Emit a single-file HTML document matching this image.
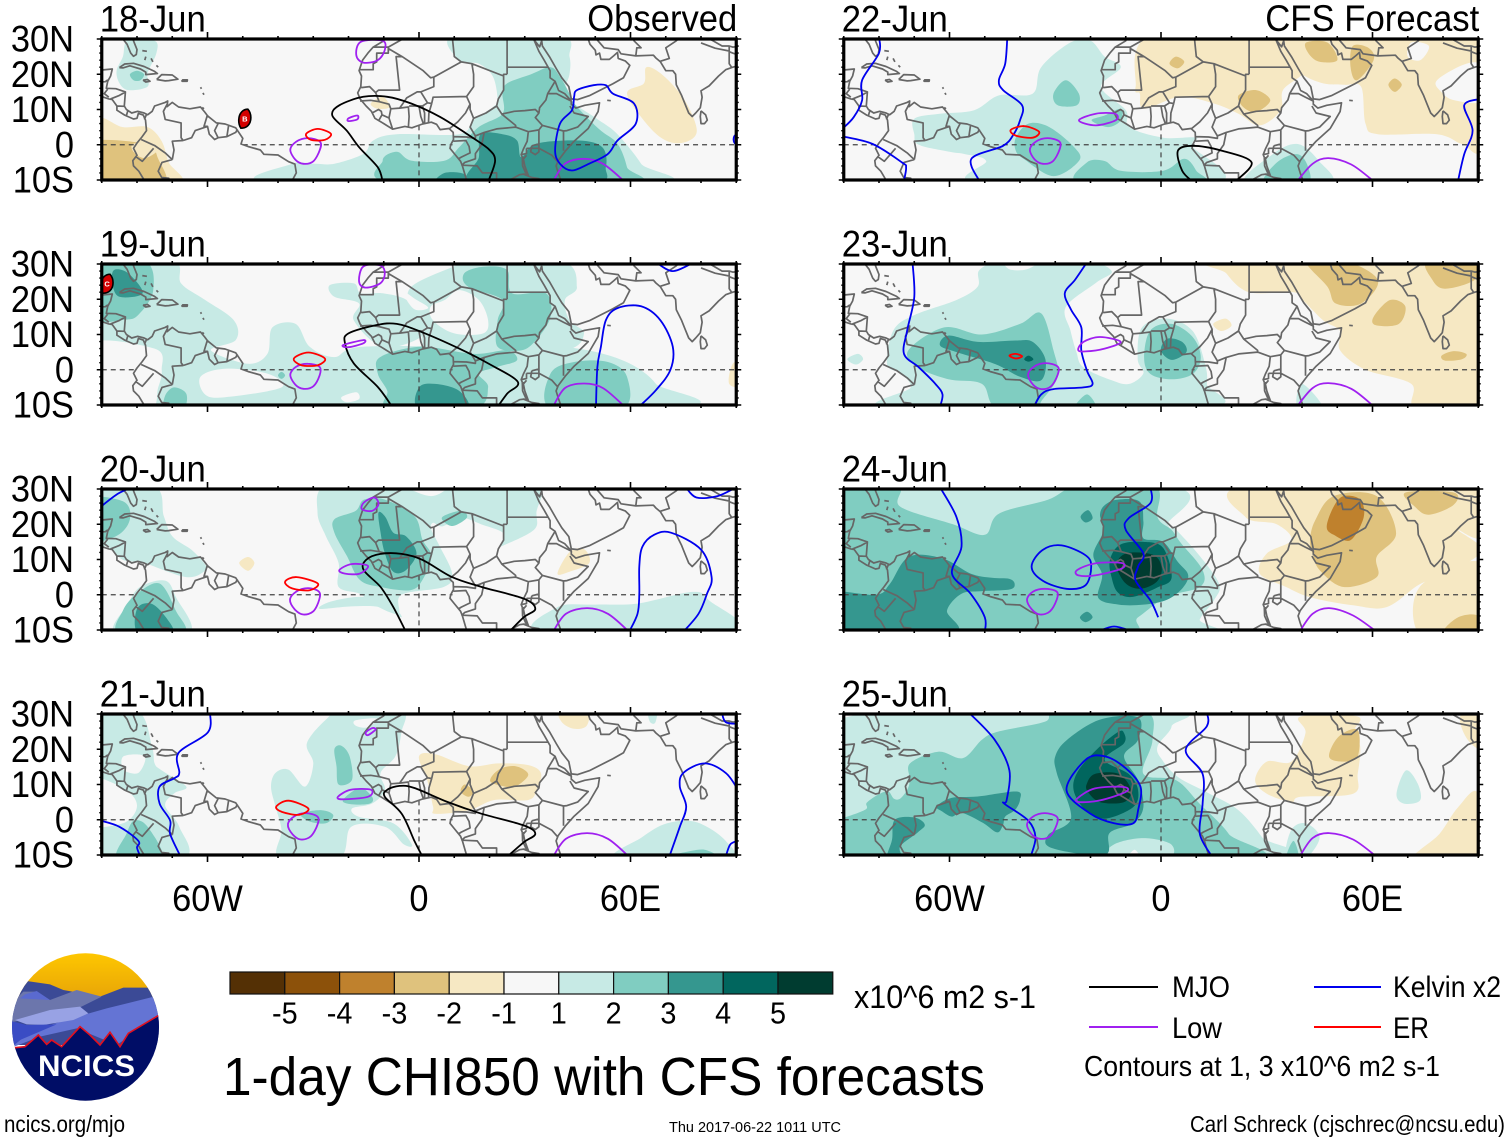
<!DOCTYPE html>
<html lang="en">
<head>
<meta charset="utf-8">
<title>1-day CHI850 with CFS forecasts</title>
<style>
html,body{margin:0;padding:0;background:#fff;}
svg{display:block;font-family:"Liberation Sans",sans-serif;}
</style>
</head>
<body>
<svg id="chart" xmlns="http://www.w3.org/2000/svg" width="1510" height="1142" viewBox="0 0 1510 1142">
  <rect width="1510" height="1142" fill="#fff"/>
  <g id="panels"></g>

  <g id="colorbar"></g>
  <text x="854" y="1008" font-size="32" textLength="182" lengthAdjust="spacingAndGlyphs">x10^6 m2 s-1</text>

  <g>
    <line x1="1089" x2="1158" y1="987" y2="987" stroke="#000" stroke-width="2"/>
    <text x="1172" y="997" font-size="30" textLength="58" lengthAdjust="spacingAndGlyphs">MJO</text>
    <line x1="1314" x2="1381" y1="987" y2="987" stroke="#0000ee" stroke-width="2"/>
    <text x="1393" y="997" font-size="30" textLength="108" lengthAdjust="spacingAndGlyphs">Kelvin x2</text>
    <line x1="1089" x2="1158" y1="1027" y2="1027" stroke="#a020f0" stroke-width="2"/>
    <text x="1172" y="1038" font-size="30" textLength="50" lengthAdjust="spacingAndGlyphs">Low</text>
    <line x1="1314" x2="1381" y1="1027" y2="1027" stroke="#f00" stroke-width="2"/>
    <text x="1393" y="1038" font-size="30" textLength="36" lengthAdjust="spacingAndGlyphs">ER</text>
    <text x="1084" y="1076" font-size="29" textLength="356" lengthAdjust="spacingAndGlyphs">Contours at 1, 3 x10^6 m2 s-1</text>
  </g>

  <text x="223" y="1095" font-size="54" textLength="762" lengthAdjust="spacingAndGlyphs">1-day CHI850 with CFS forecasts</text>
  <text x="4" y="1132" font-size="23" textLength="121" lengthAdjust="spacingAndGlyphs">ncics.org/mjo</text>
  <text x="669" y="1132" font-size="15" textLength="172" lengthAdjust="spacingAndGlyphs">Thu 2017-06-22 1011 UTC</text>
  <text x="1190" y="1132" font-size="23" textLength="315" lengthAdjust="spacingAndGlyphs">Carl Schreck (cjschrec@ncsu.edu)</text>

  <g>
    <defs>
      <clipPath id="logo-clip"><ellipse cx="85.5" cy="1027" rx="73.5" ry="73.7"/></clipPath>
      <linearGradient id="sun-grad" x1="0" y1="0" x2="0" y2="1"><stop offset="0" stop-color="#ffc800"/><stop offset="1" stop-color="#e6a208"/></linearGradient>
    </defs>
    <g clip-path="url(#logo-clip)">
      <g transform="translate(0,945) scale(0.33333)">
        <rect x="20" y="20" width="480" height="150" fill="url(#sun-grad)"/>
        <polygon fill="#3b4a96" points="20,175 80,108 150,118 190,135 300,155 370,128 445,128 500,170 500,300 20,300"/>
        <polygon fill="#6c76ac" points="20,190 70,140 110,140 150,165 230,135 305,155 240,187 20,235"/>
        <polygon fill="#5a6ad0" points="60,160 75,148 110,138 150,165"/>
        <polygon fill="#6474d4" points="250,210 320,190 462,155 490,205 350,300 230,250 120,275 30,310 85,265 150,240"/>
        <polygon fill="#98a2e4" points="45,225 150,195 240,185 265,205 220,225 130,240 80,238"/>
        <polygon fill="#3a4cc4" points="20,225 80,240 170,238 60,285 30,310 20,310"/>
        <path fill="#000d66" d="M20,300 L45,308 75,305 115,270 140,298 155,285 185,305 240,245 270,270 300,300 330,262 360,305 385,265 495,200 V480 H20 Z"/>
        <path fill="none" stroke="#e01020" stroke-width="5" d="M35,305 L45,308 75,305 115,270 140,298 155,285 185,305 240,245 270,270 300,300 330,262 360,305 385,265 495,200"/>
      </g>
    </g>
    <text x="38" y="1076" font-size="30" font-weight="bold" fill="#fff" textLength="97" lengthAdjust="spacingAndGlyphs">NCICS</text>
  </g>
</svg>

<script>
/* ---------- axis values ---------- */
const panelDates = ['18-Jun','19-Jun','20-Jun','21-Jun','22-Jun','23-Jun','24-Jun','25-Jun'];
const lonTicks = [-60, 0, 60];
const lonTickLabels = ['60W', '0', '60E'];
const latTicks = [30, 20, 10, 0, -10];
const latTickLabels = ['30N', '20N', '10N', '0', '10S'];
const colorbarLevels = [-5, -4, -3, -2, -1, 1, 2, 3, 4, 5];
const colorbarLabels = ['-5', '-4', '-3', '-2', '-1', '1', '2', '3', '4', '5'];
const equatorOceanLons = [[-90,-80],[-50,9.5],[42,90]];
const primeMeridianOceanLats = [5.5,-10];

/* ---------- map geometry, flat lon,lat lists ---------- */
const coastlines = [
 [-90,29.2,-89.5,30.2,-86,30.4,-84,30,-82.8,28.5,-81.8,26,-81,25.1,-80.2,25.6,-80,27,-81,29.5,-81.4,31],
 [-91,18.6,-90.5,20.5,-90,21.2,-87,21.5,-87.5,19.5,-88.3,18,-88.7,16,-86,15.9,-83.3,15,-83.6,11,-83,10,-81.5,9,-79.8,9.5,-78,9,-77,8.5,-75.7,9.5,-75,11,-72,12,-71.3,12.4,-71.5,10.8,-70,12,-68.2,10.7,-65,10.2,-62,10.7,-60.8,9.3,-60,8.2,-57.5,6.2,-55,5.9,-52,4.8,-50,1.8,-50.5,0.2,-48.5,-0.5,-45,-1.5,-44,-2.7,-40,-2.9,-37,-4.8,-35.2,-5.5,-34.8,-8,-36,-10.2,-37,-11],
 [-91,14,-88,13,-87,12.8,-85.7,11,-85.7,9.8,-83.5,8.4,-81,7.3,-80,7.5,-79.6,8.9,-78.2,8.4,-77.6,7,-77.3,4,-78.6,2.2,-80,0.5,-81,-1,-80,-3,-81.2,-4.5,-81,-6,-79.5,-7.5,-78,-10,-77.5,-11],
 [-85,21.9,-83.5,22.9,-81,23.1,-78,22.2,-75,20.8,-74.2,20.2,-77.5,19.9,-77.5,20.6,-79,21.5,-82,22.4,-84,21.8,-85,21.9],
 [-78.3,18.3,-77,18.5,-76.3,18,-77.5,17.8,-78.3,18.3],
 [-74.4,18.5,-73,19.9,-70,19.8,-68.4,18.6,-71,18.2,-72,18.1,-74.4,18.5],
 [-67.2,18.4,-65.7,18.4,-65.8,18,-67.2,18,-67.2,18.4],
 [-78.5,26.7,-77.2,26.5],[-77.5,25,-77.8,24],[-76,24.5,-75.5,23.5],[-74.5,22.5,-74,22],
 [-62,16.3,-61.7,15.9],[-61.3,14.7,-61,14.2],[-61.5,10.6,-61,10.2],
 [-9.5,31,-10,29.5,-13,27.7,-14.5,26,-16,24,-17,21,-16.3,19.5,-16.5,16.5,-17.4,14.7,-16.7,13,-15,11,-13.5,9.5,-12.5,7.5,-10,6,-7.5,4.4,-4,5.2,-2,4.8,1,5.9,3.5,6.4,5,5.8,6,4.3,8.5,4.6,9.7,3.5,9.8,1.5,9,0,8.8,-1,10,-2.5,11.8,-4.7,12.3,-6,13.2,-9,13.8,-11],
 [32.5,31,32.6,29.8,34,26.5,35.5,24,37.2,21,37.2,19,38.6,18,39.6,15.4,41.3,14.5,43.2,12.4,43.2,11.5,44.5,10.4,47,11.2,51.2,11.9,50.8,9.4,48,4.6,44,1,41.5,-1.8,39.5,-4.5,38.9,-6,39.5,-8,40.4,-10.5,40.5,-11],
 [34.8,29.5,35,28,37,25,39,21.5,40.5,19,42.5,16.5,43.2,13,45,12.8,48.5,14,52,15.8,55,17.3,58,19,59.8,22.5,58.5,23.8,56.5,24.5,56.3,26.2,55.3,25.3,54,24.2,51.6,24.2,51.2,26,50.2,25.5,50,26.8,48.5,28.5,48,30,48.8,30.3],
 [32.6,29.8,34.2,27.8,34.8,29.5],
 [48.8,30.3,50.5,29.8,52.5,27.5,56.5,27,57.3,25.8,61.5,25.2,66.5,25.4,67.2,24.6,68.5,23.5,70,21,72,21,72.8,20,73,17,74.5,14,75.5,11.5,76.5,9,77.5,8,78.5,9,79.8,10.5,80.3,13.5,80,15.3,82.3,16.7,85,19.5,87,21.3,89,22,91,22.5],
 [80,9.6,81.3,8.5,81.8,7,81,6,80,6,79.8,8,80,9.6],
 [32,-0.3,34,0.2,34,-2,33,-2.8,31.7,-2,32,-0.3],
 [29.3,-3.5,29.4,-6,30.5,-8.5,31,-8.7,30,-6,29.5,-3.5],
 [53.4,12.6,54.4,12.5]
];
const countryBorders = [
 [-13,27.7,-8.7,27.7],[-8.7,27.7,-8.7,26,-12,26,-12,23.5,-13,23,-13,21.3,-17,21.3],
 [-8.7,27.3,-4.8,25,-6.5,25,-5.5,15.5,-11.5,15.5,-12.3,14.8,-14,16.5,-16.4,16.2],
 [-4.8,25,1.2,21,3.3,19,4.2,19.2,12,23.5,10,25,9.5,30,9.5,31],[-8.7,27.7,-5,29.8,-2,31],
 [4.2,19.2,4.2,16.5,0.5,15,-0.5,15,-3.5,13.3,-4.5,11.8,-5.5,10.4,-8,10.2,-8.5,11.5,-11.3,12.2,-12.3,14.8],
 [-16.7,12.4,-13.7,12.6,-11.3,12.2],[-13.3,9,-11.5,10,-10.7,9.5,-10.5,8.5,-8.5,7.6,-7.5,4.4],[-11.4,6.9,-10.5,8.5],[-8.5,7.6,-8,10.2],
 [-5.5,10.4,-3,10.7,-2.8,8,-3,5.1],[-2.8,11,1,11,2.4,11.9,3.6,11.7],[0,11,0.5,8,1.2,6.1],[1,11,1.6,9,1.6,6.2],[2.7,6.4,2.8,9,3.6,11.7],[0.5,15,2.4,11.9],
 [3.6,11.7,4,13.5,13.5,13.7,15.5,16.5,15.5,20,15,23,12,23.5],[13.5,13.7,14.5,11.5,13.2,9,11,6.5,8.7,4.6],
 [15,23,24,19.5,24,15.5,22.5,13,22,11,19,9,15.5,7.5,14.5,10,14.5,11.5],
 [15.5,7.5,14.5,5,16,2.5,18.5,3.5,22,4.5,27.4,5,27.4,5.5,23.5,8.7,22,11],
 [9.8,2.3,13.5,2.2,16,1.8,16,2.5],[9.8,1,13.3,1.2,14.2,-0.5,14.5,-2.3,12,-3.5,11.2,-4],
 [18.5,3.5,17.8,0,16,-2.5,16,-4,13,-5,12.2,-5.8,16.5,-6,18,-8,22,-8,22,-11],
 [27.4,5,31,3.7,30.7,1,29.6,-1.3,29,-2.8,29.3,-3.5],
 [25,20,24,20,24,19.5],[25,20,25,31],[25,22,36.8,22],
 [23.5,8.7,27,9.5,30,9.7,33,10,34,9,33,7.7,35,5.5,34,4.2,31,3.7],
 [38.6,18,36.5,14.5,36,12.7,34.2,10.5,34,9],[36.5,14.5,39,14.5,41,13.5,43,12.5],
 [42.8,11,44,9,48,8,45,5,42,4,41,3.9,35,5.5],[41,3.9,41,-1.7],[34,4.2,34,-1,37.7,-3,39.2,-4.7],
 [30.5,-1,34,-1],[29,-2.8,30.5,-2.5,30.5,-1],[29.3,-4.4,30.5,-3],[29.5,-8.3,32,-9.3,34,-9.6,35,-11],[22,-11,24,-11,28.5,-8.5,30,-8.3],
 [61.5,25.2,61.8,27.5,63,27.5,61,29.5,61,31],[68.5,23.7,71,24.5,70,27.5,73,29.5,74.5,31],
 [80,28.9,84,27.4,88,26.6,88,28],[88,26.5,88,23,88.8,21.8],[88,26.4,89,26,92,25],[79,31,81,30,82,30.3,86,28,88,28,89,27.7,92,28],
 [-77.3,8.6,-77.9,7.2],[-85.7,11,-83.7,10.9],[-87.5,13,-85,14,-83.2,15],[-88,13.5,-89.3,14.5,-88.3,15.8],[-83,8.3,-82.6,9.6],[-92,15,-91,16,-90.5,17.8,-89,17.9,-88.3,18.4],
 [-71.3,11.8,-72.5,9.5,-72,7.2,-67.5,6.2,-67.5,2,-66.9,1.2],[-60,8.5,-61,5.2,-60,5.2,-63.5,4,-64.5,2,-66.9,1.2],
 [-60,5.2,-59.5,3,-58,1.5,-57,2],[-57,6,-58,4,-57,2],[-54,5.7,-54.5,2.3],[-57,2,-54.5,2.3,-52,3.5,-51.5,4.4],
 [-78.8,1.5,-75.5,0,-75,-0.2,-72,-2.3,-70,-4.2],[-66.9,1.2,-70,1,-69.5,-1.5,-70,-4.2],[-80.3,-3.4,-78.5,-4.7,-75.3,-1],
 [-70,-4.2,-72.9,-5,-74,-7.5,-73,-9.3,-71,-9.5,-70.5,-11],[-69.5,-11,-65.3,-10,-65,-11]
];

/* ---------- shaded anomaly regions: [level, flat lon,lat outline] (level 0 = neutral gap) ---------- */
const shadeJun18 = [
 [-1,[-92,7,-84,5,-77,5,-73,1,-71,-5,-68,-11,-92,-11]],
 [-2,[-95,0.3,-78,0.3,-74,-4,-73,-12,-95,-12]],
 [-1,[-81,0.3,-75,0.3,-74.5,-2,-78,-3.8,-81,-2]],
 [1,[-82.5,30,-75,29.5,-74.5,26,-77,20.3,-77,16.5,-82.5,15.5,-85,17.5,-85.8,21,-84,25]],
 [2,[-82,20,-80,21,-78,20,-79,18.3,-81,18.3]],
 [1,[10,31,11.4,24,17,23,21,19.3,22.3,12.6,21,10.7,15.5,7,11.4,3,-6.3,3,-13,1.2,-15.8,-2.6,-24,-5.4,-29.4,-5.4,-36,-5.4,-40,-11,65,-11,63,-5.4,56.3,3,51,7,48,9,44,11.7,41.4,15.5,42.7,20,42.7,25,40,31]],
 [2,[25,17.4,31.8,20,37.3,22,40,19.3,42.7,14.5,44,11.7,51,4.5,56.3,0.3,59,-6.4,59,-11,-6.3,-11,-10.3,-4.5,-6.3,-2,-2.2,-4.5,7.3,-4.5,11.4,-0.7,16.9,5,23.7,8.8,23.7,14.5]],
 [3,[17.5,3,23.7,3,27.8,1.2,29,-3.5,33.2,0.3,45.4,1.2,52,-0.7,53,-6.4,49.5,-11,15.5,-11,17,-3.5]],
 [3,[4.6,-11,7.3,-8,12.8,-8.3,13.5,-11]],
 [-1,[64.5,22,69.2,19.7,75.4,12.6,78.8,4,75.4,0.7,70,1.2,64.5,6,59,14.5,63.8,17.4]],
 [-1,[-13.7,11.7,-10.3,13.6,-8.3,10.7,-11.7,10.2]]
];
const contoursJun18 = [
 ['MJO',false,[-10.3,-10.5,-11.7,-6.4,-17,-0.7,-20.5,4,-24.6,8.3,-22.6,11.2,-15.8,13.6,-9,13.6,-2.2,11.7,6,7.9,13.5,3.1,19.6,-1.1,21.6,-4.5,19.6,-10.5]],
 ['Low',true,[-16.5,29.2,-17.8,25.4,-15.8,23.3,-11.7,24,-9.7,26.9,-10.3,29.5]],
 ['Low',true,[-20,7.5,-17.5,8.3,-17.5,7.2,-20,6.7]],
 ['Low',true,[-36.5,-1.4,-34.8,0.9,-31.5,1.9,-28.1,0.9,-28.1,-1.4,-30,-4.7,-32.8,-5.4,-35.1,-4.2]],
 ['Low',false,[38,-10.5,41.4,-5.4,46.8,-4,52.2,-5.4,58.4,-10.5]],
 ['ER',true,[-32,3.1,-28.7,4.5,-25,3.1,-26.7,1.4,-30.7,1.4]],
 ['Kelvin',true,[44.8,15.5,49.5,16.9,53,16.9,55,14.5,61,11.7,61.5,6,56.3,1.2,53.6,-2.6,48.2,-5.4,43.4,-7.3,40,-5.4,38.6,-1.6,40,6,43.4,9.8,44,13.6]],
 ['Kelvin',false,[91,3.5,89.5,2.5,89.3,1,90,0,91,-0.5]]
];
const shadeJun19 = [
 [1,[-92,31,-70,31,-67.5,24.5,-61,20,-52.5,14,-52,8.4,-59,5.5,-48.5,1.7,-43,4.5,-41.6,12,-35,13,-31,6.5,-24,3.6,-16,6.5,17,6.5,41,6.5,57.7,2.7,67.2,-4,68,-11,-92,-11]],
 [1,[-2.2,23.5,11.4,30,11.4,31,40,31,44.8,23.5,41.4,19.8,42.7,14,46.8,10.3,41.4,5.5,17,4.5,3,5.5,0.5,10.3,-2.2,16]],
 [1,[-25.3,24,-18.5,24.5,-16.5,21.7,-10.3,21.7,-3.5,19.8,0.5,15,0.5,9.3,-10.3,6.5,-18.5,14,-17,18.8,-24,20.7]],
 [0,[-4,22,-1,20,2.6,17.6,-1,17,-3.5,19.8]],
 [0,[7.3,19.8,11.4,22.6,17,19.8,19.6,14,18.2,10.3,10,10.3,4,14,3.3,17.9]],
 [0,[-95,7,-75,6,-73,0,-74,-5,-77,-12,-95,-12]],
 [0,[-62,-2,-55,0.3,-43,-1.1,-39,-5,-55,-7.8,-60.7,-7]],
 [0,[-22,-7.8,-17.8,-6.4,-17,-8.3,-20.5,-9.2]],
 [2,[12.8,27.3,18.2,29.2,25,28.3,26.4,21.7,36,21.7,37.3,15,33.2,8.4,29,5.5,22.3,6.5,22.3,14,23.7,19.8,14,23.5]],
 [2,[-11,3.6,0.5,6.5,15.5,4.5,25,5.5,27.8,2.7,22.3,0.8,17,-1.1,19.6,-5,15.5,-11,-8.3,-11,-9,-6,-11.7,-1.1]],
 [2,[37.3,-1.1,44,2.2,53.6,2.2,59,-2,57.7,-11,37.3,-11]],
 [2,[-95,31,-78,31,-75.4,22.5,-79.5,15.7,-83.6,14.2,-95,14.7]],
 [3,[-86.5,28.3,-82.4,27.3,-78.4,21.7,-85,20.7,-87,24.5]],
 [2,[-72,-7.3,-69.5,-5,-66,-6.8,-66.8,-11,-72,-11]],
 [2,[-40,-1.6,-39,-0.6,-38,-1.6,-39,-2.6]],
 [3,[0,-5,4.6,-4,11.4,-6,13.5,-11,0,-11]],
 [-1,[89,1.7,92,2,92,-4.5,88,-4]]
];
const contoursJun19 = [
 ['MJO',false,[-7.6,-10.5,-11.7,-4.9,-18.5,1.8,-21,7.5,-20,10.3,-12,12.7,-6.3,13,0.5,10.8,11.4,6,19.6,1.8,28,-3.4,25,-6.8,22.3,-10.5]],
 ['Kelvin',false,[67.2,30.5,72,28,78,30.5]],
 ['Kelvin',false,[50.2,-10.5,50.6,0.8,51.6,6.5,53,14,56.3,17.5,63,18,68.5,14,72,6.5,71.3,-0.1,67.2,-5.8,62.4,-10.5]],
 ['Low',true,[-15.8,29.3,-17,25,-15.2,23.3,-11,24.5,-9.7,27.3,-11,29.6]],
 ['Low',true,[-21.5,7,-15.8,8.4,-15.8,7.5,-20,6.4]],
 ['Low',true,[-36.5,-1.4,-34.8,0.9,-31.5,1.7,-28.2,0.8,-28.2,-1.6,-30,-4.7,-32.8,-5.4,-35.1,-4.2]],
 ['Low',false,[38,-10.5,41.4,-5.2,46.8,-3.9,52.2,-5.2,58.4,-10.5]],
 ['ER',true,[-35.5,3.2,-31.4,4.9,-26.7,3.2,-28.7,1.3,-33.4,1.3]]
];
const shadeJun20 = [
 [1,[-95,31,-75.4,31,-72.4,22.3,-70,16.6,-64.6,12.8,-61,9,-60.5,7,-66,5,-78,9,-84,9.9,-88.5,13.7,-95,14]],
 [1,[-72,4,-69,-0.6,-65.2,-11,-86,-11,-82.5,-2.5,-79,2.3]],
 [2,[-95,27,-84,26.5,-82,21.4,-86,16.6,-95,15.5]],
 [2,[-80,0.3,-73.6,3.2,-69,-4.5,-67,-11,-85,-11,-84,-4.5]],
 [3,[-80,-4,-76,-2.5,-71.8,-6.4,-70,-11,-79.6,-11]],
 [1,[-26.4,31,-7.3,31,3.5,28,10.6,31,13,23.8,7,19.5,4,20.4,3.5,18.5,5.9,13.7,9.4,6,7,2.2,-5,0,-6,-5.4,-13.3,-2.5,-16.8,0.3,-22.8,2.2,-22.8,9,-26.4,16.6,-28.8,23.3]],
 [1,[-28.2,-4,-25.2,-2,-16.8,-0.6,-9,-2,-4.9,-6.4,-11,-3.5,-19.2,-3.3]],
 [1,[10,31,33,31,33.3,23.3,32.7,18.5,24.4,14.2,23.2,14.2,23.8,17.6,16.6,20.4,10.6,23.8]],
 [2,[-24,21.4,-18,23.8,-15.6,27,-9.7,27,-1.3,22.3,1,15.6,3.5,10.9,1,4.2,-2.5,1.3,-10.9,2.2,-16.8,4.2,-20.4,10.9,-24,17.6]],
 [2,[6.5,21.9,11.8,23.8,13.6,21.9,9.4,19.5]],
 [3,[-11.5,23.3,-9.5,22,-7.3,17.6,-3.7,16.6,-0.7,11.8,-3.7,7,-7.3,6.5,-9.7,11.8,-10.9,17.6]],
 [-1,[-51,9,-48.5,10.7,-46.7,9,-48.5,6.8]],
 [-1,[39.3,6,42.9,12.3,47,12.8,48.3,9,42.9,6.6]],
 [1,[35,-11,39.3,-3.5,50,-2.8,62,-2.5,77.5,0.8,82.3,-1.6,89.5,-11]],
 [2,[73,-11,78,-9.5,84,-11]]
];
const contoursJun20 = [
 ['MJO',false,[-3.7,-10.5,-7.3,-3.5,-10.9,2.2,-15.7,7,-15,9.9,-10.9,11.6,-4.9,11.6,1,9.9,9.4,5,17.8,2.2,29.7,-1.1,33,-4,29.7,-6.4,25.6,-10.5]],
 ['Low',true,[-16.2,24.3,-15.6,26.2,-12.7,27.6,-11.5,25.7,-13.3,23.8]],
 ['Low',true,[-22.6,7,-19.2,8.7,-14.5,8.2,-16.8,6,-21,6]],
 ['Low',true,[-36.6,-1.4,-34.8,0.9,-31.5,1.9,-28.4,0.9,-28.3,-1.4,-30,-4.7,-32.8,-5.6,-35.2,-4.2]],
 ['Low',false,[38,-10.5,41.7,-5.4,47.7,-3.8,53.6,-5.4,59.6,-10.5]],
 ['ER',true,[-38,3.7,-34.7,5,-28.7,3.2,-31,1.3,-36,1.8]],
 ['Kelvin',false,[-90.5,24.8,-85.5,28.6,-81.4,30.5]],
 ['Kelvin',false,[75.7,30.5,78.7,27.6,84.7,28,90,30.5]],
 ['Kelvin',false,[59.6,-10.5,62,-5.4,62.5,0.3,62.5,8,63.4,13.7,66.7,17,71.5,17.6,80,12.8,83,5,81.7,0.3,79.3,-5.4,75,-10.5]]
];
const shadeJun21 = [
 [1,[-95,31,-80,31,-75.8,21,-75,16,-73,14,-66,9.4,-69.4,7.5,-72,4,-68,-2,-67,-11,-95,-11]],
 [0,[-83.8,18,-77.8,18,-79.6,13.3,-83.8,14.2]],
 [0,[-95,12,-84,9,-80,4,-84,-1,-95,-1]],
 [2,[-80.8,-0.2,-77,-2,-73,-11,-85.5,-11,-83,-4]],
 [1,[-40.7,13.3,-37,14.2,-32.3,9.4,-30,16,-31.8,21.7,-26.4,28.4,-21.6,31,-5,31,-5,24.8,-6.7,18,-10.9,13.3,-9.7,8.5,-13.3,4.6,-19,3.2,-17,0.8,-7.3,-1,-2,-7,-4.3,-7,-9.7,-2,-19.2,-2,-22.8,-11,-39.5,-11,-39,-3,-40.7,3.7,-42,9.4]],
 [0,[-18,28.2,-12,28.7,-14.5,26.2,-18,26.7]],
 [2,[-24,20,-22,21,-19.7,18,-19,11.3,-22.8,10,-23.4,15.2]],
 [2,[-33.6,1.7,-27.6,2.7,-24.3,1.3,-26.4,-1,-31,-0.5]],
 [2,[-21.6,5.6,-16.8,9,-13.3,6.5,-13.9,4.6,-19.2,4.4]],
 [-1,[0,18,4.6,18.6,14.2,15.2,22.6,16,31,15.5,34.6,13.2,33.4,8.5,31,5.6,21.4,5.6,14.2,2.7,4.6,1.7,4,3.7,2.3,11.3]],
 [-2,[22.6,14.2,27.4,15.2,31,12.8,27.4,9.4,24.4,9.4,20.2,10.9]],
 [-2,[11.8,8,13,10,15.5,8,14,6.5]],
 [-1,[40,31,47.6,31,47.6,26.7,44,25.8,40.5,27.7]],
 [1,[65,31,67.5,31,67,27.5,65.5,27.8]],
 [1,[56,-11,63.2,-5,70.4,-1,78.8,-0.7,87,-6,87,-11]],
 [2,[68,-11,74,-9.5,81,-8.5,84,-11]]
];
const contoursJun21 = [
 ['Kelvin',false,[-59.3,30.5,-59.9,24.8,-68.2,19,-68,13.3,-69.4,11.8,-73.6,9.4,-73.6,4.6,-70.6,-0.2,-70.6,-4,-67.6,-10.5]],
 ['Kelvin',false,[-90.5,-0.2,-85,-2,-79.6,-6,-80,-7.9,-79,-10.5]],
 ['Kelvin',false,[71,-10.5,74,-2,75.8,3.7,74,9.4,75,13.3,81,16,87,13.3,90.5,8.5]],
 ['Kelvin',false,[85.9,30.5,87,27.7,90.5,27.2]],
 ['Kelvin',false,[87,-10.5,88.3,-7,90.5,-6]],
 ['MJO',false,[1,-10.5,-1.3,-6,-4.9,1.7,-9.7,6.5,-9,8.5,-5.5,9.6,-1.3,9,8.2,5,17.8,1.7,29.7,-1.6,33,-4,29.7,-6.4,25,-10.5]],
 ['Low',true,[-15.1,24.8,-13.3,26,-12.3,25.6,-14.5,24]],
 ['Low',true,[-23,6.5,-19.4,8.5,-13.6,8.5,-14.5,6.5,-21.6,5.8]],
 ['Low',true,[-37.2,-1.4,-35.5,0.9,-32.2,1.9,-28.8,0.9,-28.8,-1.4,-30.7,-4.7,-33.5,-5.6,-35.8,-4.2]],
 ['Low',false,[38,-10.5,41.7,-5.4,47.7,-3.8,53.6,-5.4,59.6,-10.5]],
 ['ER',true,[-40.5,3.7,-37,5.4,-31.4,3.2,-34,1.4,-38.8,2.2]]
];
const shadeJun22 = [
 [1,[-70,7.4,-62.8,8.8,-53,9.8,-46,14,-36.4,14.5,-34,22,-25.7,29,-20,29.5,-16,25,-11.4,22,-17,16.4,-10,9.8,-9,5,0.6,2,10,2,9,-0.5,15,-11,-51.4,-11,-49.6,-4.6,-55.5,-2.7,-60,-2,-68.7,0,-70,3]],
 [1,[24,-11,31.7,-2.7,38.8,0.2,44.8,-4.6,47.8,-11]],
 [2,[-30.5,14.5,-27,18.3,-23.3,14.5,-23.9,11.2,-29.3,11.2]],
 [2,[-41.2,2,-37.6,6,-31.7,5,-24.5,-0.8,-23.3,-4.6,-30.5,-8.9,-38.8,-4.1,-41.2,-1.7]],
 [2,[-21,-5,-16,-4.6,-11.4,-7.4,0.6,-7.4,6.6,-4,10,-7.4,10.8,-11,-22.7,-11]],
 [2,[29.3,-11,32.9,-5,38.8,-2.7,41.8,-6.5,41.2,-11]],
 [2,[-19.7,6.9,-16,8.3,-11.4,10.2,-11.4,6.9,-15,5]],
 [-1,[-7.2,16.4,-3,31,34,31,38.8,23,40,20,34.6,15.5,34,9.8,28,5.5,22,8.8,15,11.7,5.4,13.6,-4.8,10.2,-6,14.5]],
 [-1,[34,31,91,31,91,-0.3,85.4,0.2,78.3,3,61.5,3,58,6,56.8,16.4,52,17,46,17.4,40,20,38.8,23]],
 [0,[78.3,18.3,86.6,23,91,22,91,12.6,83.2,12.6,79.5,15]],
 [0,[71,29,76,28,73.6,24,70,25]],
 [-2,[2.4,23,4.2,25,6.6,23.6,4.8,21.7]],
 [-2,[22,14,27,15.5,31,12.6,27,9.3,23.3,10.7]],
 [-2,[41.2,29,47.2,29,50,24,44.8,23.6,41.8,26]],
 [-2,[54.4,28,59,27.4,60.3,24,55.6,18.3,53.8,22]],
 [-2,[64.5,17,66.3,18.8,68.3,17,66.3,15]]
];
const contoursJun22 = [
 ['Kelvin',false,[-80,30.5,-80,26,-84.8,18.3,-84.8,12.6,-87.2,7.8,-90.5,4.4]],
 ['Kelvin',false,[-90.5,2.4,-81.8,0.2,-73.5,-5,-72.3,-6.5,-73,-10.5]],
 ['Kelvin',false,[-43.6,30.5,-44.2,23,-46,18.3,-44.8,15.5,-39.4,11.2,-40,6.9,-41.8,3,-44.8,-0.3,-53.8,-4,-51.4,-10.5]],
 ['Kelvin',false,[90.5,13,86,11.2,88.4,4,86,-2.7,84.2,-10.5]],
 ['MJO',false,[9,-10.5,6,-7.4,4.8,-1.7,9,-0.3,17.3,-1.7,25.7,-5,21,-10.5]],
 ['Low',true,[-23.3,6.9,-18.5,8.8,-13.1,8.8,-12.8,7,-18.5,5.5]],
 ['Low',true,[-37.2,-1.4,-35.5,0.9,-32.2,1.9,-28.8,0.9,-28.8,-1.4,-30.7,-4.7,-33.5,-5.4,-35.8,-4.2]],
 ['Low',false,[38.5,-10.5,43,-5.4,47.5,-3.8,54,-5.6,60.5,-10.5]],
 ['ER',true,[-42.6,4.2,-38.8,5.3,-34.6,3.7,-36.4,2,-41.2,2.6]]
];
const shadeJun23 = [
 [1,[-77.7,1.6,-75.9,11.2,-70,15.5,-58,19.8,-52,23.6,-51.4,28.4,-43.6,31,-22,31,-14,28,-18.5,24.6,-27,17.8,-25.7,11.2,-24,5,-22,0.7,-14,-3,-9,-4,-5,-1,-6.6,3,-5.4,12,1.8,14.5,9,11,12.5,1.6,13,-4,11.3,-11,-76,-11,-71,-5,-74,-1]],
 [0,[-44,31,-35,31,-38,28.5,-43,28.5]],
 [1,[-89,3,-86,4.5,-84.5,3,-86.5,1.5]],
 [1,[38.8,-11,40,-4,46,-11]],
 [2,[-71.7,5.5,-61.5,12,-50.8,10,-40,13,-34,16,-30.5,5.5,-29.3,-2,-34,-9,-35,-11,-47,-10.5,-50.8,-4,-60.3,-2.7,-69,0.7]],
 [3,[-62.7,6.9,-60.3,9.7,-52,7.9,-41.2,8.3,-36.4,7.9,-32.8,3,-34,-3,-40,-2,-47,1.6,-58,5]],
 [4,[-38.8,3,-37.6,4,-36.2,3,-37.6,2.3]],
 [2,[-4.8,3.5,-3,11.2,3,13,9,9.3,11.3,3.5,9,-1.2,3,-2.7,-3,-1.2]],
 [3,[0,5.5,1.8,8.8,6,7.9,7.2,5,3,2.8]],
 [2,[-24.5,-11,-21,-7,-18.5,-11]],
 [-1,[17.3,31,91,31,91,-11,72.3,-11,71,-4,58,0,50.8,5.5,50.8,11,46,14,40,20,37.6,22,25,22,18.5,27.4]],
 [-1,[14.8,13,18.3,14.5,20,12.5,17,11]],
 [-2,[41.2,31,52,31,61.5,25.5,56.8,18.8,49.6,18.8,47.2,23.6]],
 [-2,[60.3,15,65,19.8,69.3,18,67.5,13,61,12.6]],
 [-2,[75.9,31,92,31,89,25.5,80.6,23,77,25.5]],
 [-2,[79.6,4,83,5.3,86.6,4.5,85.4,3,80.6,2.6]]
];
const contoursJun23 = [
 ['Kelvin',false,[-70.5,30.5,-70,20.7,-72,11.2,-72.9,4.5,-68.7,0.7,-64,-4,-62,-7,-62.7,-10.5]],
 ['Kelvin',false,[-21,30.5,-24.4,25.5,-27.3,21.7,-25.5,17,-22.6,12,-22.6,5.5,-21,-0.3,-19.4,-4,-22,-5,-30.5,-5.5,-34,-7,-36,-10.5]],
 ['Low',true,[-23.5,5.6,-22,7.9,-17.3,9.3,-11.4,7.9,-16,6,-21.4,5.2]],
 ['Low',true,[-37.7,-1.4,-36,0.9,-32.7,1.9,-29.3,0.9,-29.3,-1.4,-31.2,-4.7,-34,-5.5,-36.3,-4.2]],
 ['Low',false,[38.5,-10.5,43,-5.2,47.5,-3.8,54,-5.4,60.5,-10.5]],
 ['ER',true,[-43,4,-41.2,4.5,-39.4,3.8,-41.2,3.2]]
];
const shadeJun24 = [
 [1,[-95,31,1,31,2,20,4.3,18.4,11,11,16.5,3,15,-1.6,11,-7,10,-12,-95,-12]],
 [2,[-95,31,-75,31,-74,25,-59,20,-50,17,-46,23,-32,27,-23,31,-2,31,-1,22,3,18.4,5.7,14.6,11.8,7,11,2.2,1.6,-0.6,-6.5,-6.4,-14.6,-12,-95,-12]],
 [3,[-77,3,-71.5,10.8,-62,10.3,-54,6,-48,4.8,-43,4.5,-41.5,3,-43,1.5,-51.2,1,-56.6,0.3,-60.7,-4.5,-59.4,-11,-95,-11,-95,0.3,-81,0]],
 [3,[-17.3,22.7,-15.9,25.5,-12.2,27,-6,26.4,-5,20.7,-5,16,0.6,15,4.8,9.3,7.7,5.7,6.2,2,1.7,-1.4,-5,-2.8,-12,-2.8,-17.8,-0.9,-16.7,5.7,-19.2,11.3,-16.4,18]],
 [3,[-22.8,22.2,-20.7,24,-19.4,21.7,-21.4,20.5]],
 [3,[-23,-6.4,-21,-4.8,-19.4,-6.4,-21.4,-7.8]],
 [4,[-14.5,9.9,-11.6,14.2,-5,15,0.6,13.3,3,4.8,-1.2,2,-8,-0.6,-12.2,0.6,-14,4.8]],
 [5,[-12.6,8.5,-9.7,11.8,-2.2,11.3,0.2,7.6,-1.2,3.7,-6,1.7,-10.2,3.4]],
 [-1,[24,31,91,31,91,16.5,84.3,18.4,89.7,14.6,91,12,81.6,6,73.4,3,64,-3.5,54.5,-3,42.3,-0.7,35.5,2.2,28,6,30,11.7,37,15.5,32.8,20,24,22]],
 [-1,[74,-12,73.4,2.2,91,9,92,-12]],
 [-2,[42.3,15.5,43.7,21,49,28,61.2,28,66.7,17.4,61.2,10.8,61.2,5,51.8,2.2,45,7,43,11.7]],
 [-2,[69.4,29,83,29,83,25.5,76,22.7,72,25]],
 [-2,[80.2,-11,84.3,-6.4,90,-6,90,-11]],
 [-3,[47,19.3,49,25,51.8,28,56.5,27,57.5,22,53.8,15.5,49,17]]
];
const contoursJun24 = [
 ['Kelvin',false,[-62.7,30.5,-58,22,-56.6,13.6,-59.3,6,-54,0.3,-50,-6.4,-50,-10.5]],
 ['Kelvin',true,[-36.7,8,-33.6,12.7,-28.2,14,-21.4,11.2,-19.8,8,-21.4,2.7,-26.8,1.7,-33.6,4]],
 ['Kelvin',false,[-3,30.5,-3,26,-9.2,21.7,-10,18.4,-5,11.7,-6.5,8,-7.2,4,-3,-1.6,-0.8,-6.4]],
 ['Kelvin',false,[-18,-10.5,-13.3,-9,-7.9,-10.5]],
 ['Low',true,[-23.8,7,-18.7,8.9,-11.2,9,-11.2,7.4,-18.7,5.5,-23.4,5.5]],
 ['Low',true,[-38,-1.4,-36.3,0.9,-33,1.7,-29.6,0.9,-29.6,-1.4,-31.5,-4.7,-34.3,-5.6,-36.6,-4.2]],
 ['Low',false,[39.3,-10.5,43,-5.4,47.7,-3.8,54.5,-5.9,61.2,-10.5]]
];
const shadeJun25 = [
 [1,[-95,31,0,31,3,26.5,-1,20.8,0.3,17,5,12,13.8,7.4,22,2.7,28.7,-5,32.8,-12,-95,-12]],
 [0,[-92,31,-84,31,-90,29]],
 [2,[-92,0,-84,2.8,-83.5,4.8,-80.3,7.1,-77.4,8,-75.8,6,-74,6,-72,8.5,-71.2,11.3,-71.2,16,-63.2,19.3,-56.2,17.5,-50.8,22.7,-46.2,25,-33,27.8,-29.2,31,-5,31,-2.4,22.7,-5,13,4.3,11.2,11,4.5,19.2,-4,22,-12,-95,-12,-95,0]],
 [1,[-15.3,-11,-13.3,-7,-5,-5.2,2.9,-7,1.5,-11]],
 [0,[-9.5,-11,-7.5,-8.5,-6,-11]],
 [3,[-30,18,-26.6,22.7,-17.3,28.4,-6.5,29,-6.5,22.7,-10.5,18,-6.5,11.2,-5,3.6,-7.9,-1,-14.6,-3.8,-16,-10,-31,-8,-32,-4.3,-25.5,0.5,-29.5,13]],
 [3,[-63.6,3.8,-59.4,6.2,-52,6.6,-41,8,-40,5.7,-41.4,2.8,-44.2,0.9,-44.8,-1.4,-46.5,-3.6,-50.5,-0.9,-56.5,2,-59.3,0.9,-62,2.3]],
 [3,[-75.5,0,-69.8,0.6,-67,-1.4,-69,-3.6,-74,-7.6,-73.5,-11,-77.7,-11,-76.3,-5.7]],
 [1,[35.5,-11,36.9,-3,41,-1,45,-5,41,-11]],
 [2,[35.5,-11,37.6,-6,39,-11]],
 [1,[66.8,7.4,69.5,14,72.8,10.3,73.5,5.5,68.8,4.6]],
 [4,[-24.8,8.4,-23.4,14,-17.3,20.8,-12,25,-10.5,24.6,-10.5,21.7,-16,17,-9.2,13,-6.5,8.4,-7.9,3.6,-16,0.3,-21.4,2.7]],
 [5,[-21,10.3,-18.7,13,-12,13,-8.5,8.4,-10.5,5,-17.3,5,-20.8,8]],
 [-1,[26.7,11.2,30,16.5,37,16.5,41,24.6,39.6,29.3,55.8,29.3,54.4,24.6,56.5,20.8,55.8,13,54.5,7.4,39.6,6.5,37,5,30,7.4]],
 [-2,[47.7,17.9,50.4,23.6,55.8,25.5,55.8,17.9,51.8,16.5]],
 [-1,[71.4,-12,79,-4,84.3,3.6,90,7.4,92,-12]],
 [-1,[85,29.5,92,31,92,20,87,22.7]]
];
const contoursJun25 = [
 ['Kelvin',false,[-54.6,30.5,-47.2,22.7,-43,14,-43.8,5.5,-44.5,4.6,-37.7,-0.2,-35.6,-5,-37,-10.5]],
 ['Kelvin',true,[-26.8,8.4,-21.4,17,-16,18,-10,14.6,-5.8,9.3,-6.5,2.7,-7.9,-1,-13.3,-1,-20,1.7]],
 ['Kelvin',false,[13,30.5,13,26.5,7,19.8,11.8,13,11.8,4.5,11,-4,14.5,-10.5]],
 ['Low',true,[-23.8,6,-18.7,8.9,-10.6,9.3,-10,7.9,-17.3,5.5,-23,5]],
 ['Low',true,[-38,-1.4,-36.3,0.9,-33,1.9,-29.6,0.9,-29.6,-1.4,-31.5,-4.7,-34.3,-5.4,-36.6,-4.2]],
 ['Low',false,[39.3,-10.5,43,-5.2,47.7,-3.8,54.5,-5.6,61.2,-10.5]]
];
const panelShades = [shadeJun18,shadeJun19,shadeJun20,shadeJun21,shadeJun22,shadeJun23,shadeJun24,shadeJun25];
const panelContours = [contoursJun18,contoursJun19,contoursJun20,contoursJun21,contoursJun22,contoursJun23,contoursJun24,contoursJun25];

/* tropical cyclones: panel index, lon, lat, letter */
const stormPanels = [0, 1];
const stormLons = [-49.4, -88.5];
const stormLats = [7.4, 24.4];
const stormNames = ['B', 'C'];

/* ---------- styles and layout ---------- */
const levelColors = {'-5':'#543005','-4':'#8c510a','-3':'#bf812d','-2':'#dfc27d','-1':'#f6e8c3','0':'#f7f7f7','1':'#c7eae5','2':'#80cdc1','3':'#35978f','4':'#01665e','5':'#003c30'};
const contourColors = {MJO:'#000',Kelvin:'#0000ee',Low:'#a020f0',ER:'#f00'};
const NS = 'http://www.w3.org/2000/svg';
const DEG = 3.525;
const columnCenters = [419, 1161];
const rowTops = [39, 264, 489, 714];
const TEXT_SQUEEZE = 0.93;

function xScale(col, lon){ return columnCenters[col] + lon * DEG; }
function yScale(row, lat){ return rowTops[row] + (30 - lat) * DEG; }

function el(tag, attrs, parent){
  const e = document.createElementNS(NS, tag);
  for (const k in attrs) e.setAttribute(k, attrs[k]);
  parent.appendChild(e);
  return e;
}
function squeezedText(x, y, size, anchor, parent){
  return el('text', {transform:'translate(' + x + ',' + y + ') scale(' + TEXT_SQUEEZE + ',1)', 'font-size':size, 'text-anchor':anchor}, parent);
}
function pairs(flat, col, row){
  const out = [];
  for (let i = 0; i < flat.length; i += 2) out.push([xScale(col, flat[i]), yScale(row, flat[i+1])]);
  return out;
}
function smoothPath(p, closed){
  const n = p.length;
  let d = 'M' + p[0][0].toFixed(1) + ',' + p[0][1].toFixed(1);
  const last = closed ? n : n - 1;
  for (let i = 0; i < last; i++){
    const p0 = closed ? p[(i-1+n)%n] : p[Math.max(i-1,0)];
    const p1 = p[i%n];
    const p2 = closed ? p[(i+1)%n] : p[Math.min(i+1,n-1)];
    const p3 = closed ? p[(i+2)%n] : p[Math.min(i+2,n-1)];
    const c1x = p1[0] + (p2[0]-p0[0])/6, c1y = p1[1] + (p2[1]-p0[1])/6;
    const c2x = p2[0] - (p3[0]-p1[0])/6, c2y = p2[1] - (p3[1]-p1[1])/6;
    d += 'C' + c1x.toFixed(1) + ',' + c1y.toFixed(1) + ' ' + c2x.toFixed(1) + ',' + c2y.toFixed(1) + ' ' + p2[0].toFixed(1) + ',' + p2[1].toFixed(1);
  }
  return d + (closed ? 'Z' : '');
}
function polyPath(p){
  return 'M' + p.map(q => q[0].toFixed(1) + ',' + q[1].toFixed(1)).join('L');
}

const panelsRoot = document.getElementById('panels');

panelDates.forEach(function(date, idx){
  const col = idx < 4 ? 0 : 1;
  const row = idx % 4;
  const left = xScale(col, -90), right = xScale(col, 90), top = yScale(row, 30), bottom = yScale(row, -10);

  const g = el('g', {}, panelsRoot);
  
  

  const clipId = 'clip-' + idx;
  const cp = el('clipPath', {id: clipId}, g);
  el('rect', {x:left, y:top, width:right-left, height:bottom-top}, cp);

  const plot = el('g', {'clip-path':'url(#' + clipId + ')'}, g);
  
  
  const bg = el('rect', {x:left, y:top, width:right-left, height:bottom-top, fill:levelColors[0]}, plot);
  
  

  panelShades[idx].forEach(function(s){
    const shade = el('path', {d:smoothPath(pairs(s[1], col, row), true), fill:levelColors[s[0]]}, plot);
    
    
  });

  equatorOceanLons.forEach(function(r){
    const eq = el('line', {x1:xScale(col,r[0]), x2:xScale(col,r[1]), y1:yScale(row,0), y2:yScale(row,0), stroke:'#444', 'stroke-width':1.2, 'stroke-dasharray':'5 4'}, plot);
    
    
  });
  const pm = el('line', {x1:xScale(col,0), x2:xScale(col,0), y1:yScale(row,primeMeridianOceanLats[0]), y2:yScale(row,primeMeridianOceanLats[1]), stroke:'#444', 'stroke-width':1.2, 'stroke-dasharray':'5 4'}, plot);
  
  

  let mapD = '';
  coastlines.forEach(function(c){ mapD += polyPath(pairs(c, col, row)); });
  countryBorders.forEach(function(c){ mapD += polyPath(pairs(c, col, row)); });
  const map = el('path', {d:mapD, fill:'none', stroke:'#666', 'stroke-width':1.7, 'stroke-linejoin':'round'}, plot);
  
  

  panelContours[idx].forEach(function(c){
    const line = el('path', {d:smoothPath(pairs(c[2], col, row), c[1]), fill:'none', stroke:contourColors[c[0]], 'stroke-width':1.8}, plot);
    
    
  });

  stormPanels.forEach(function(p, i){
    if (p !== idx) return;
    const sx = xScale(col, stormLons[i]), sy = yScale(row, stormLats[i]);
    const storm = el('g', {transform:'translate(' + sx + ',' + sy + ')'}, plot);
    
    
    el('path', {d:'M3,-9.5C7,-5 7,3 3,7C1,9 -2,9.5 -4,9.5C-7,5 -7,-3 -3,-7C-1,-9 1,-9.5 3,-9.5Z', fill:'#d40000', stroke:'#000', 'stroke-width':1.6}, storm);
    const st = el('text', {x:0, y:2.6, 'font-size':7.5, 'font-weight':'bold', fill:'#fff', 'text-anchor':'middle'}, storm);
    st.textContent = stormNames[i];
  });

  /* frame and ticks */
  let tickD = '';
  for (let lon = -90; lon <= 90; lon += 10){
    const x = xScale(col, lon);
    const len = lonTicks.indexOf(lon) >= 0 ? 7 : 3;
    tickD += 'M' + x + ',' + (top-len) + 'V' + top + 'M' + x + ',' + bottom + 'V' + (bottom+len);
  }
  const xt = el('path', {d:tickD, stroke:'#000', 'stroke-width':1.6, fill:'none'}, g);
  
  
  let yTickD = '';
  for (let lat = -10; lat <= 30; lat += 2){
    const y = yScale(row, lat);
    const len = lat % 10 === 0 ? 5 : 2.5;
    yTickD += 'M' + (left-len) + ',' + y + 'H' + left + 'M' + right + ',' + y + 'H' + (right+len);
  }
  const yt = el('path', {d:yTickD, stroke:'#000', 'stroke-width':1.4, fill:'none'}, g);
  
  
  const frame = el('rect', {x:left, y:top, width:right-left, height:bottom-top, fill:'none', stroke:'#000', 'stroke-width':3.2}, g);
  
  

  const title = el('text', {x:left-2, y:top-7.5, 'font-size':37, textLength:106, lengthAdjust:'spacingAndGlyphs'}, g);
  
  
  title.textContent = date;

  if (col === 0){
    latTicks.forEach(function(lat, i){
      const t = squeezedText(74, yScale(row,lat)+12.5, 37, 'end', g);
      
      
      t.textContent = latTickLabels[i];
    });
  }
  if (row === 3){
    lonTicks.forEach(function(lon, i){
      const t = squeezedText(xScale(col,lon), 911, 37, 'middle', g);
      
      
      t.textContent = lonTickLabels[i];
    });
  }
  if (row === 0){
    const h = col === 0 ? 'Observed' : 'CFS Forecast';
    const t = el('text', {x:right+1, y:31, 'font-size':37, 'text-anchor':'end', textLength:col===0?150:214, lengthAdjust:'spacingAndGlyphs'}, g);
    
    
    t.textContent = h;
  }
});

/* colorbar */
const cbRoot = document.getElementById('colorbar');
const cbLeft = 230, cbStep = 54.8, cbTop = 972, cbH = 22;
const cbFillLevels = [-5,-4,-3,-2,-1,0,1,2,3,4,5];
cbFillLevels.forEach(function(lv, i){
  const r = el('rect', {x:cbLeft+i*cbStep, y:cbTop, width:cbStep, height:cbH, fill:levelColors[lv], stroke:'#111', 'stroke-width':1.2}, cbRoot);
  
  
});
colorbarLevels.forEach(function(v, i){
  const t = squeezedText(cbLeft+(i+1)*cbStep, 1023.5, 31, 'middle', cbRoot);
  
  
  t.textContent = colorbarLabels[i];
});
</script>
</body>
</html>
